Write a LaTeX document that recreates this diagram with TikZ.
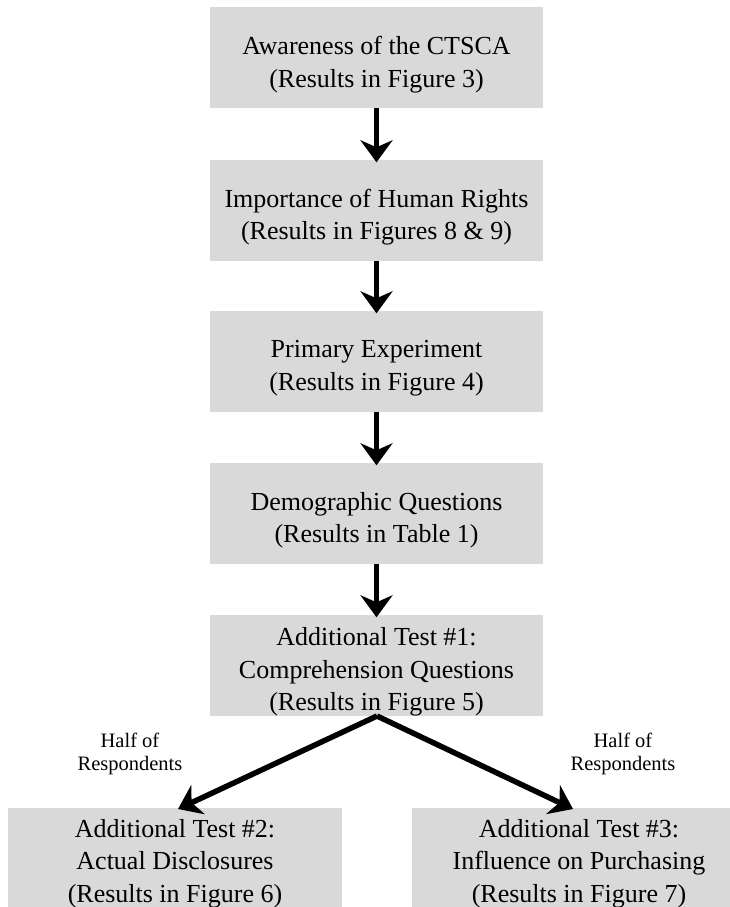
\documentclass[tikz,border=0pt]{standalone}
\usepackage{fontspec}
\setmainfont{Liberation Serif}
\newfontfamily\labelfont{Liberation Serif}
\usetikzlibrary{arrows.meta}
\definecolor{boxgray}{RGB}{217,217,217}
\tikzset{
  stagebox/.style={fill=boxgray, draw=none, minimum width=333pt, minimum height=101pt, inner sep=0pt},
  stagetext/.style={align=center, inner sep=0pt, yshift=-7pt, font=\fontsize{26}{32.5}\selectfont},
  flowarrow/.style={line width=5.5pt, -{Stealth[length=22pt,width=32pt,inset=7pt]}},
  splitlabel/.style={align=center, inner sep=0pt, font=\labelfont\fontsize{20.5}{23}\selectfont}
}
\begin{document}
\begin{tikzpicture}[x=1pt,y=-1pt]
\useasboundingbox (0,0) rectangle (730,907);
\clip (0,0) rectangle (730,907);
\fill[white] (0,0) rectangle (730,907);
\node[stagebox, label={[stagetext]center:{Awareness of the CTSCA\\(Results in Figure 3)}}] (b1) at (376.5,57.5) {};
\node[stagebox, label={[stagetext]center:{Importance of Human Rights\\(Results in Figures 8 \& 9)}}] (b2) at (376.5,210) {};
\node[stagebox, label={[stagetext]center:{Primary Experiment\\(Results in Figure 4)}}] (b3) at (376.5,361) {};
\node[stagebox, label={[stagetext]center:{Demographic Questions\\(Results in Table 1)}}] (b4) at (376.5,513) {};
\node[stagebox, label={[stagetext]center:{Additional Test \#1:\\Comprehension Questions\\(Results in Figure 5)}}] (b5) at (376.5,665) {};
\node[stagebox, minimum width=334pt, label={[stagetext, yshift=2pt]center:{Additional Test \#2:\\Actual Disclosures\\(Results in Figure 6)}}] (b6) at (175,858.5) {};
\node[stagebox, minimum width=334pt, label={[stagetext, yshift=2pt]center:{Additional Test \#3:\\Influence on Purchasing\\(Results in Figure 7)}}] (b7) at (579,858.5) {};
\node[splitlabel] (l1) at (130,754) {Half of\\Respondents};
\node[splitlabel] (l2) at (623,754) {Half of\\Respondents};
\coordinate (apex) at (377,716);
\coordinate (tipL) at (178,809);
\coordinate (tipR) at (573,809);
\draw[flowarrow] (b1.south) -- ([yshift=-3pt]b2.north);
\draw[flowarrow] (b2.south) -- ([yshift=-3pt]b3.north);
\draw[flowarrow] (b3.south) -- ([yshift=-3pt]b4.north);
\draw[flowarrow] (b4.south) -- ([yshift=-3pt]b5.north);
\draw[flowarrow] (apex) -- (tipL);
\draw[flowarrow] (apex) -- (tipR);
\end{tikzpicture}
\end{document}
